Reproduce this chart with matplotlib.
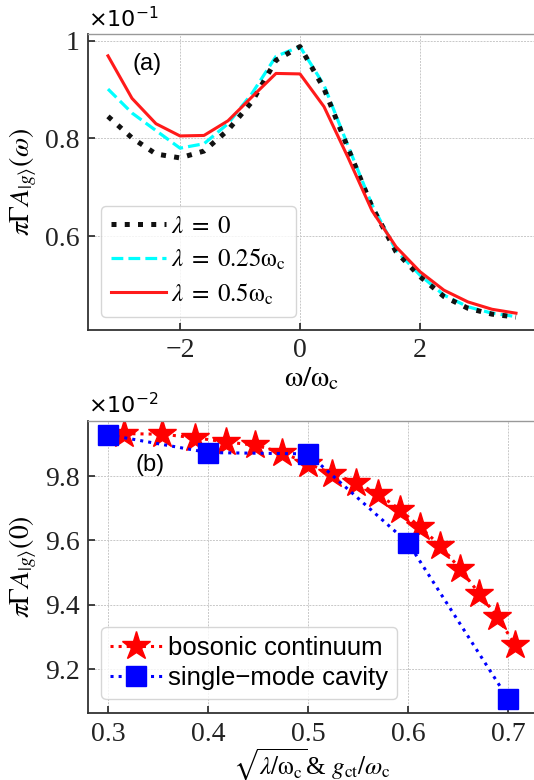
import numpy as np
import matplotlib
matplotlib.use("Agg")
import matplotlib.pyplot as plt
from matplotlib.ticker import FuncFormatter

plt.rcParams["font.family"] = ["Liberation Serif", "DejaVu Serif"]
plt.rcParams["mathtext.fontset"] = "stix"

# (a) spectral function vs omega/omega_c, in units of 1e-1
omega = [-3.2, -2.8, -2.4, -2.0, -1.6, -1.2, -0.8, -0.4, 0.0,
         0.4, 0.8, 1.2, 1.6, 2.0, 2.4, 2.8, 3.2, 3.6]
spec_lam0 = [0.845, 0.801, 0.768, 0.760, 0.774, 0.817, 0.875, 0.960, 0.988,
             0.902, 0.780, 0.660, 0.568, 0.517, 0.476, 0.452, 0.440, 0.434]
spec_lam025 = [0.901, 0.852, 0.816, 0.780, 0.789, 0.830, 0.892, 0.968, 0.988,
               0.909, 0.785, 0.664, 0.571, 0.520, 0.479, 0.455, 0.442, 0.435]
spec_lam05 = [0.969, 0.882, 0.830, 0.805, 0.806, 0.836, 0.885, 0.933, 0.932,
              0.865, 0.761, 0.652, 0.578, 0.527, 0.489, 0.465, 0.450, 0.442]

# (b) spectral weight at omega=0, in units of 1e-2
coupling_bc = [0.316, 0.354, 0.387, 0.418, 0.447, 0.474, 0.500, 0.524, 0.548,
               0.570, 0.592, 0.612, 0.632, 0.652, 0.671, 0.689, 0.707]
a0_bc = [9.932, 9.930, 9.919, 9.906, 9.896, 9.873, 9.838, 9.808, 9.779,
         9.744, 9.695, 9.641, 9.584, 9.511, 9.435, 9.363, 9.275]
coupling_cav = [0.3, 0.4, 0.5, 0.6, 0.7]
a0_cav = [9.928, 9.873, 9.869, 9.592, 9.107]

fig = plt.figure(figsize=(5.34, 7.8), dpi=100)
ax1 = fig.add_axes([0.1648, 0.5769, 0.8389, 0.3791])
ax2 = fig.add_axes([0.1648, 0.0855, 0.8389, 0.3751])


def style(ax):
    ax.tick_params(direction="in", length=5, width=1.2, labelsize=20,
                   colors="#222222", pad=6)
    ax.grid(True, ls=(0, (2, 1.2)), lw=0.7, color="#c8c8c8")
    ax.set_axisbelow(True)
    for s in ("left", "bottom"):
        ax.spines[s].set_color("#333333")
        ax.spines[s].set_linewidth(1.3)
    ax.spines["top"].set_color("#999999")
    ax.spines["top"].set_linewidth(1.0)
    ax.spines["right"].set_visible(False)
    ax.yaxis.set_major_formatter(FuncFormatter(lambda v, p: f"{v:g}"))


# panel (a)
ax1.plot(omega, spec_lam025, ls="--", color="#00ffff", lw=2.3, zorder=2,
         label=r"$\lambda\;=\;0.25\mathrm{\omega_c}$")
ax1.plot(omega, spec_lam0, ls=":", color="#111111", lw=3.6, zorder=3,
         label=r"$\lambda\;=\;0$")
ax1.plot(omega, spec_lam05, ls="-", color="#ff1a1a", lw=2.2, zorder=4,
         label=r"$\lambda\;=\;0.5\mathrm{\omega_c}$")
style(ax1)
ax1.set_xlim(-3.533, 3.933)
ax1.set_ylim(0.4075, 1.0131)
ax1.set_xticks([-2, 0, 2])
ax1.set_yticks([0.6, 0.8, 1.0])
ax1.set_xlabel(r"$\mathrm{\omega/\omega_c}$", fontsize=21, labelpad=1)
ax1.set_ylabel(r"$\pi\Gamma A_{|g\rangle}(\omega)$", fontsize=20, labelpad=4)
ax1.text(-2.55, 0.952, "(a)", family="Liberation Sans", fontsize=17,
         ha="center", va="center")
ax1.text(0.0, 1.008, r"$\times10^{-1}$", transform=ax1.transAxes,
         fontsize=16, math_fontfamily="dejavusans", ha="left", va="bottom")
h, l = ax1.get_legend_handles_labels()
order = [1, 0, 2]
ax1.legend([h[i] for i in order], [l[i] for i in order],
           loc="lower left", bbox_to_anchor=(0.03, 0.045), borderaxespad=0,
           fontsize=18, handlelength=2.2, handletextpad=0.2,
           labelspacing=0.35, borderpad=0.4, fancybox=True, framealpha=0.8)

# panel (b)
ax2.plot(coupling_bc, a0_bc, ls=":", color="#ff0000", lw=2.2, marker="*",
         ms=21, mec="#ff0000", mfc="#ff0000", label="bosonic continuum")
ax2.plot(coupling_cav, a0_cav, ls=":", color="#0000ff", lw=2.2, marker="s",
         ms=14.5, mec="#0000ff", mfc="#0000ff", label="single\u2212mode cavity")
style(ax2)
ax2.set_xlim(0.2797, 0.7277)
ax2.set_ylim(9.063, 9.972)
ax2.set_xticks([0.3, 0.4, 0.5, 0.6, 0.7])
ax2.set_yticks([9.2, 9.4, 9.6, 9.8])
ax2.set_xlabel(r"$\sqrt{\lambda/\mathrm{\omega_c}}$& $g_{\mathrm{ct}}/\omega_{\mathrm{c}}$",
               fontsize=18, labelpad=0)
ax2.set_ylabel(r"$\pi\Gamma A_{|g\rangle}(0)$", fontsize=20, labelpad=4)
ax2.text(0.342, 9.834, "(b)", family="Liberation Sans", fontsize=17,
         ha="center", va="center")
ax2.text(0.0, 1.008, r"$\times10^{-2}$", transform=ax2.transAxes,
         fontsize=16, math_fontfamily="dejavusans", ha="left", va="bottom")
ax2.legend(loc="lower left", bbox_to_anchor=(0.03, 0.049), borderaxespad=0,
           prop={"family": "Liberation Sans", "size": 18.5}, numpoints=1,
           handlelength=2.0, handletextpad=0.25, labelspacing=0.25,
           borderpad=0.35, fancybox=True, framealpha=0.8)

fig.savefig("out.png", dpi=100)
